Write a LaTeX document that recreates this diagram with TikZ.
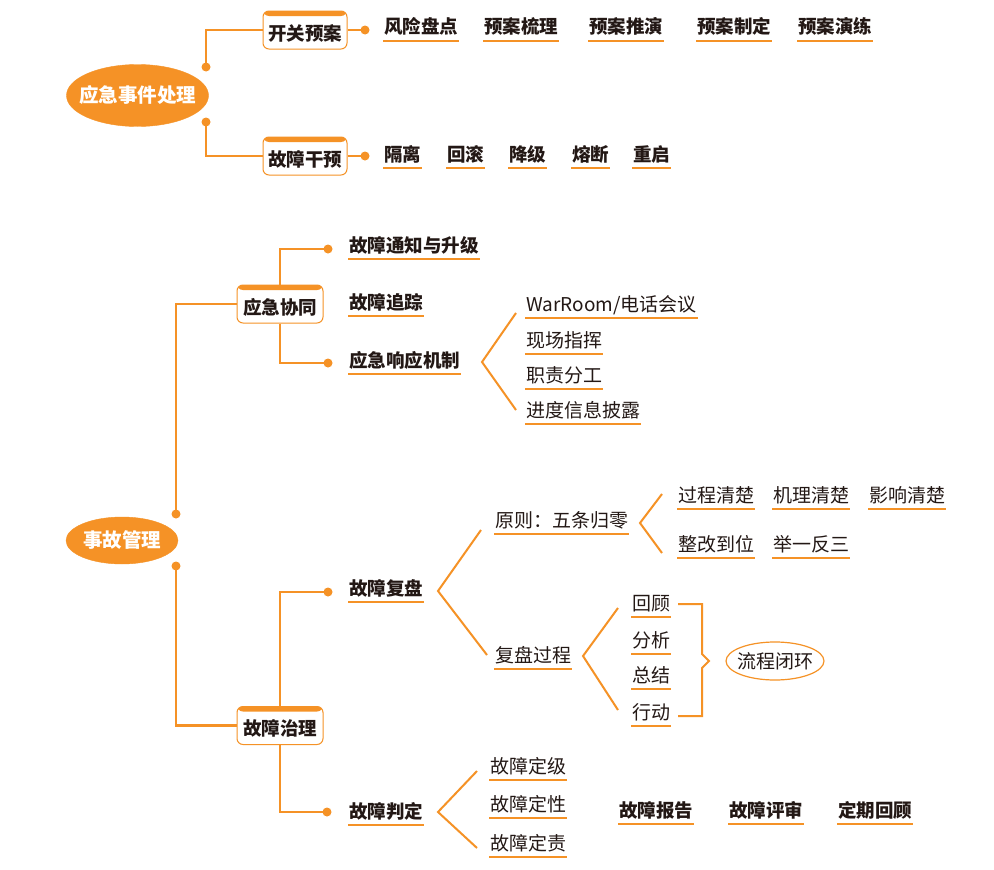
\documentclass[tikz,border=0pt]{standalone}
\usepackage{fontspec}
\setmainfont{Noto Sans CJK SC}
\usetikzlibrary{shapes.geometric}
\definecolor{myor}{RGB}{245,146,38}
\definecolor{txt}{RGB}{35,24,21}
\newcommand\fsb{\fontsize{18.5}{20}\selectfont\bfseries}
\newcommand\fsr{\fontsize{19}{20}\selectfont}
\newcommand\fso{\fontsize{19.5}{20}\selectfont\bfseries}
\newcommand\ctext[2]{\smash{\makebox[0pt]{\raisebox{#1}{#2}}}}
\begin{document}
\begin{tikzpicture}[x=1pt,y=-1pt,
  ln/.style={draw=myor, line width=2.5pt},
  br/.style={draw=myor, line width=2pt},
  ul/.style={draw=myor, line width=2pt},
  dotn/.style={circle, fill=myor, inner sep=0pt, minimum size=9pt},
  it/.style={anchor=base west, inner xsep=1pt, inner ysep=0pt, text depth=7pt, text=txt, font=\fsr,
    append after command={(\tikzlastnode.south west) edge[ul] (\tikzlastnode.south east)}},
  bit/.style={it, font=\fsb},
  oval/.style={ellipse, fill=myor, draw=myor, text=white, font=\fso, inner sep=0pt},
  loop/.style={ellipse, fill=white, draw=myor, line width=1.2pt, text=txt, font=\fsr, inner sep=0pt, minimum width=98pt, minimum height=38pt},
  box/.style={draw=myor, line width=1pt, fill=white, rounded corners=6pt, minimum height=38pt,
    inner sep=0pt, text height=22pt, text depth=2pt, font=\fsb, text=txt,
    path picture={\fill[myor] (path picture bounding box.north west) rectangle ([yshift=-5pt]path picture bounding box.north east);}}
]
\useasboundingbox (0,0) rectangle (994,870);
\fill[white] (0,0) rectangle (994,870);

% ---------- top: 应急事件处理 ----------
\node[oval, minimum width=142pt, minimum height=62pt] (r1) at (137.5,95.5) {\ctext{-7.4pt}{应急事件处理}};
\node[dotn] (d1) at (206,67) {};
\node[dotn] (d2) at (206,122) {};
\node[box, minimum width=84pt] (b1) at (305,30) {开关预案};
\node[box, minimum width=84pt] (b2) at (305,156) {故障干预};
\node[dotn] (d3) at (365,30) {};
\node[dotn] (d4) at (365,156) {};
\draw[ln] (d1.center) |- (b1.west);
\draw[ln] (d2.center) |- (b2.west);
\draw[ln] (b1.east) -- (d3.center);
\draw[ln] (b2.east) -- (d4.center);

\node[bit] (t1) at (383,34) {风险盘点};
\node[bit] (t2) at (483,34) {预案梳理};
\node[bit] (t3) at (588,34) {预案推演};
\node[bit] (t4) at (696,34) {预案制定};
\node[bit] (t5) at (797,34) {预案演练};

\node[bit] (g1) at (383,161) {隔离};
\node[bit] (g2) at (446,161) {回滚};
\node[bit] (g3) at (508,161) {降级};
\node[bit] (g4) at (571,161) {熔断};
\node[bit] (g5) at (632,161) {重启};

% ---------- 事故管理 ----------
\node[oval, minimum width=112pt, minimum height=47pt] (r2) at (122,540.5) {\ctext{-7.4pt}{事故管理}};
\node[dotn] (d5) at (176,514) {};
\node[dotn] (d6) at (176,566) {};
\node[box, minimum width=86pt] (b3) at (280,304) {应急协同};
\node[box, minimum width=86pt] (b4) at (280,725.5) {故障治理};
\draw[ln] (d5.center) |- (b3.west);
\draw[ln] (d6.center) |- (b4.west);

% 应急协同 children
\node[dotn] (d7) at (328,249) {};
\node[dotn] (d8) at (328,363) {};
\draw[ln] (b3.north) |- (d7.center);
\draw[ln] (b3.south) |- (d8.center);
\node[bit] (c1) at (348,252) {故障通知与升级};
\node[bit] (c2) at (348,309) {故障追踪};
\node[bit] (c3) at (348,367) {应急响应机制};

\coordinate (v1) at (482,362);
\coordinate (v1t) at (516,313);
\coordinate (v1b) at (516,410);
\draw[br] (v1t) -- (v1) -- (v1b);
\node[it, inner xsep=1pt] (w1) at (525,311) {WarRoom/电话会议\hspace{4pt}};
\node[it] (w2) at (525,347) {现场指挥};
\node[it] (w3) at (525,382) {职责分工};
\node[it] (w4) at (525,417) {进度信息披露};

% 故障治理 children
\node[dotn] (d9) at (328,592) {};
\node[dotn] (d10) at (327,812) {};
\draw[ln] (b4.north) |- (d9.center);
\draw[ln] (b4.south) |- (d10.center);
\node[bit] (f1) at (348,595) {故障复盘};
\node[bit] (f2) at (348,818) {故障判定};

\coordinate (v2) at (438,591);
\coordinate (v2t) at (481,530);
\coordinate (v2b) at (487,655);
\draw[br] (v2t) -- (v2) -- (v2b);
\node[it] (p1) at (494,527) {原则：五条归零};
\node[it] (p2) at (494,662) {复盘过程};

\coordinate (v3) at (640,523);
\coordinate (v3t) at (662,494);
\coordinate (v3b) at (662,553);
\draw[br] (v3t) -- (v3) -- (v3b);
\node[it] (z1) at (677,502) {过程清楚};
\node[it] (z2) at (772,502) {机理清楚};
\node[it] (z3) at (868,502) {影响清楚};
\node[it] (z4) at (677,551) {整改到位};
\node[it] (z5) at (772,551) {举一反三};

\coordinate (v4) at (583,656);
\coordinate (v4t) at (618,608);
\coordinate (v4b) at (618,710);
\draw[br] (v4t) -- (v4) -- (v4b);
\node[it] (h1) at (631,610) {回顾};
\node[it] (h2) at (631,647) {分析};
\node[it] (h3) at (631,682) {总结};
\node[it] (h4) at (631,719) {行动};

\coordinate (bz1) at (678,604);
\coordinate (bz2) at (678,716);
\draw[br] (bz1) -- ++(24,0) -- ++(0,50) -- ++(7,7) -- ++(-7,7) -- (702,716) -- (bz2);
\node[loop] (lp) at (775,661) {\ctext{-7.2pt}{流程闭环}};

\coordinate (v5) at (438,812);
\coordinate (v5t) at (477,771);
\coordinate (v5b) at (477,848);
\draw[br] (v5t) -- (v5) -- (v5b);
\node[it] (j1) at (489,773) {故障定级};
\node[it] (j2) at (489,811) {故障定性};
\node[it] (j3) at (489,850) {故障定责};

\node[bit] (k1) at (618,817) {故障报告};
\node[bit] (k2) at (728,817) {故障评审};
\node[bit] (k3) at (837,817) {定期回顾};
\end{tikzpicture}
\end{document}
